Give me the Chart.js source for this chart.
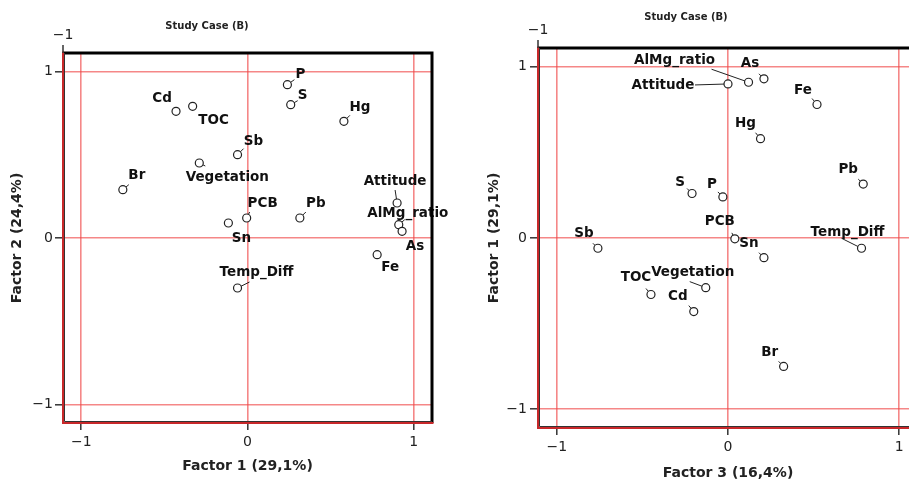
<!DOCTYPE html>
<html>
<head>
<meta charset="utf-8">
<script src="https://cdn.jsdelivr.net/npm/chart.js@4.4.1/dist/chart.umd.min.js"></script>
<style>
  html, body { margin: 0; padding: 0; background: #fff; overflow: hidden; width: 909px; height: 482px; }
  #left  { position: absolute; left: 0;     top: 0; }
  #right { position: absolute; left: 450px; top: 0; }
</style>
</head>
<body>
<canvas id="left" width="460" height="482"></canvas>
<canvas id="right" width="480" height="482"></canvas>
<script>
// Factor loadings of each variable
const variables = ['P', 'S', 'Cd', 'TOC', 'Hg', 'Sb', 'Vegetation', 'Br', 'Attitude',
                   'PCB', 'Pb', 'Sn', 'AlMg_ratio', 'As', 'Fe', 'Temp_Diff'];
const factor1 = [0.24, 0.26, -0.43, -0.33, 0.58, -0.06, -0.29, -0.75, 0.90,
                 -0.005, 0.315, -0.115, 0.91, 0.93, 0.78, -0.06];
const factor2 = [0.92, 0.80, 0.76, 0.79, 0.70, 0.50, 0.45, 0.29, 0.21,
                 0.12, 0.12, 0.09, 0.08, 0.04, -0.10, -0.30];
const factor3 = [-0.03, -0.21, -0.20, -0.45, 0.19, -0.76, -0.13, 0.325, 0.0,
                 0.04, 0.79, 0.21, 0.12, 0.21, 0.52, 0.78];
const tickValues = [-1, 0, 1];
const chartTitle = 'Study Case (B)';

// Label placement per variable: [label dx, label dy, leader end dx, leader end dy] (null = no leader)
const leftLabelLayout = {
  P: [13, -10, 7, -5], S: [12, -9, 7, -4], Cd: [-14, -13, null, null], TOC: [21, 14, null, null],
  Hg: [16, -14, 6, -6], Sb: [16, -13, 6, -6], Vegetation: [28, 14, 6, 3], Br: [14, -14, 6, -5],
  Attitude: [-2, -22, -2, -13], PCB: [16, -15, 3, -6], Pb: [16, -15, 6, -6], Sn: [13, 15, null, null],
  AlMg_ratio: [9, -11, 6, -5], As: [13, 15, null, null], Fe: [13, 13, null, null], Temp_Diff: [19, -16, 12, -6]
};
const rightLabelLayout = {
  P: [-11, -12, -5, -5], S: [-12, -11, -5, -5], Cd: [-16, -15, -5, -6], TOC: [-15, -17, -5, -6],
  Hg: [-15, -15, -5, -6], Sb: [-14, -15, -5, -5], Vegetation: [-13, -15, -16, -6], Br: [-14, -14, -5, -5],
  Attitude: [-65, 2, -33, 1], PCB: [-15, -17, -3, -6], Pb: [-15, -15, -5, -5], Sn: [-15, -14, -5, -5],
  AlMg_ratio: [-74, -22, -37, -13], As: [-14, -15, -5, -5], Fe: [-14, -14, -5, -6], Temp_Diff: [-14, -16, -20, -10]
};

const FONT = "'DejaVu Sans', 'Open Sans', sans-serif";
const minus = v => (v < 0 ? '\u2212' + Math.abs(v) : String(v));

// Draws variable labels with short leader lines
const labelPlugin = {
  id: 'varLabels',
  beforeDatasetsDraw(chart, args, opts) {
    const ctx = chart.ctx;
    const meta = chart.getDatasetMeta(0);
    ctx.save();
    ctx.strokeStyle = '#222';
    ctx.lineWidth = 1;
    meta.data.forEach((pt, i) => {
      const l = opts.layout[variables[i]];
      if (!l || l[2] === null) return;
      const ang = Math.atan2(l[3], l[2]);
      ctx.beginPath();
      ctx.moveTo(pt.x + Math.cos(ang) * 3.5, pt.y + Math.sin(ang) * 3.5);
      ctx.lineTo(pt.x + l[2], pt.y + l[3]);
      ctx.stroke();
    });
    ctx.restore();
  },
  afterDatasetsDraw(chart, args, opts) {
    const ctx = chart.ctx;
    const meta = chart.getDatasetMeta(0);
    ctx.save();
    ctx.fillStyle = '#111';
    ctx.font = 'bold 13.5px ' + FONT;
    ctx.textAlign = 'center';
    ctx.textBaseline = 'middle';
    meta.data.forEach((pt, i) => {
      const l = opts.layout[variables[i]];
      ctx.fillText(variables[i], pt.x + l[0], pt.y + l[1]);
    });
    ctx.restore();
  }
};

// Frame, chart heading and the lone top tick
const framePlugin = {
  id: 'frame',
  afterDraw(chart, args, opts) {
    const ctx = chart.ctx;
    const a = chart.chartArea;
    ctx.save();
    // top and right edges
    ctx.strokeStyle = '#000';
    ctx.lineWidth = 3;
    ctx.beginPath();
    ctx.moveTo(a.left, a.top); ctx.lineTo(a.right, a.top); ctx.lineTo(a.right, a.bottom);
    ctx.stroke();
    // left and bottom edges
    ctx.strokeStyle = '#333';
    ctx.lineWidth = 1;
    ctx.beginPath();
    ctx.moveTo(a.left + 1.5, a.top); ctx.lineTo(a.left + 1.5, a.bottom - 1.5); ctx.lineTo(a.right, a.bottom - 1.5);
    ctx.stroke();
    ctx.strokeStyle = '#c8282a';
    ctx.lineWidth = 2;
    ctx.beginPath();
    ctx.moveTo(a.left, a.top - 1.5); ctx.lineTo(a.left, a.bottom); ctx.lineTo(a.right + 1.5, a.bottom);
    ctx.stroke();
    // top tick
    ctx.strokeStyle = '#333';
    ctx.lineWidth = 1.5;
    ctx.beginPath();
    ctx.moveTo(a.left, a.top - 8); ctx.lineTo(a.left, a.top);
    ctx.stroke();
    ctx.fillStyle = '#222';
    ctx.font = '14px ' + FONT;
    ctx.textAlign = 'center';
    ctx.textBaseline = 'middle';
    ctx.fillText('\u22121', a.left, a.top - 18);
    // heading
    ctx.font = 'bold 10px ' + FONT;
    ctx.fillText(chartTitle, opts.titleX, opts.titleY);
    ctx.restore();
  }
};

function axis(position, titleText, titlePad, size, tickLen, tickPad) {
  return {
    type: 'linear',
    position: position,
    min: -1.11, max: 1.11,
    afterBuildTicks: s => { s.ticks = tickValues.map(v => ({ value: v })); },
    afterFit: s => {
      if (position === 'left') s.width = size; else s.height = size;
    },
    grid: {
      color: 'rgba(240, 70, 70, 0.65)',
      lineWidth: 1.6,
      tickColor: '#333',
      tickWidth: 1.5,
      tickLength: tickLen
    },
    border: { display: false },
    ticks: {
      color: '#222',
      font: { family: FONT, size: 14 },
      padding: tickPad,
      maxRotation: 0,
      callback: v => minus(v)
    },
    title: {
      display: true,
      text: titleText,
      color: '#222',
      font: { family: FONT, size: 14, weight: 'bold' },
      padding: titlePad
    }
  };
}

function makeChart(id, xs, ys, xTitle, yTitle, layout, cfg) {
  return new Chart(document.getElementById(id), {
    type: 'scatter',
    data: {
      datasets: [{
        data: xs.map((x, i) => ({ x: x, y: ys[i] })),
        pointRadius: 4,
        pointBorderWidth: 1.2,
        pointBorderColor: '#222',
        pointBackgroundColor: '#fff'
      }]
    },
    options: {
      responsive: false,
      animation: false,
      layout: { padding: cfg.padding },
      plugins: {
        legend: { display: false },
        tooltip: { enabled: false },
        varLabels: { layout: layout },
        frame: { titleX: cfg.titleX, titleY: cfg.titleY }
      },
      scales: {
        x: axis('bottom', xTitle, { top: 0, bottom: cfg.xTitlePad }, cfg.xHeight, 7, 4),
        y: axis('left', yTitle, { top: cfg.yTitlePad, bottom: 0 }, cfg.yWidth, 8, cfg.yTickPad)
      }
    },
    plugins: [labelPlugin, framePlugin]
  });
}

makeChart('left', factor1, factor2, 'Factor 1 (29,1%)', 'Factor 2 (24,4%)', leftLabelLayout, {
  padding: { left: 0, top: 53, right: 28, bottom: 0 },
  xHeight: 59, yWidth: 63, xTitlePad: 7, yTitlePad: 9, yTickPad: 2,
  titleX: 207, titleY: 26
});

makeChart('right', factor3, factor1, 'Factor 3 (16,4%)', 'Factor 1 (29,1%)', rightLabelLayout, {
  padding: { left: 0, top: 48, right: 12, bottom: 0 },
  xHeight: 54, yWidth: 88, xTitlePad: 0, yTitlePad: 36, yTickPad: 3,
  titleX: 236, titleY: 17
});
</script>
</body>
</html>
